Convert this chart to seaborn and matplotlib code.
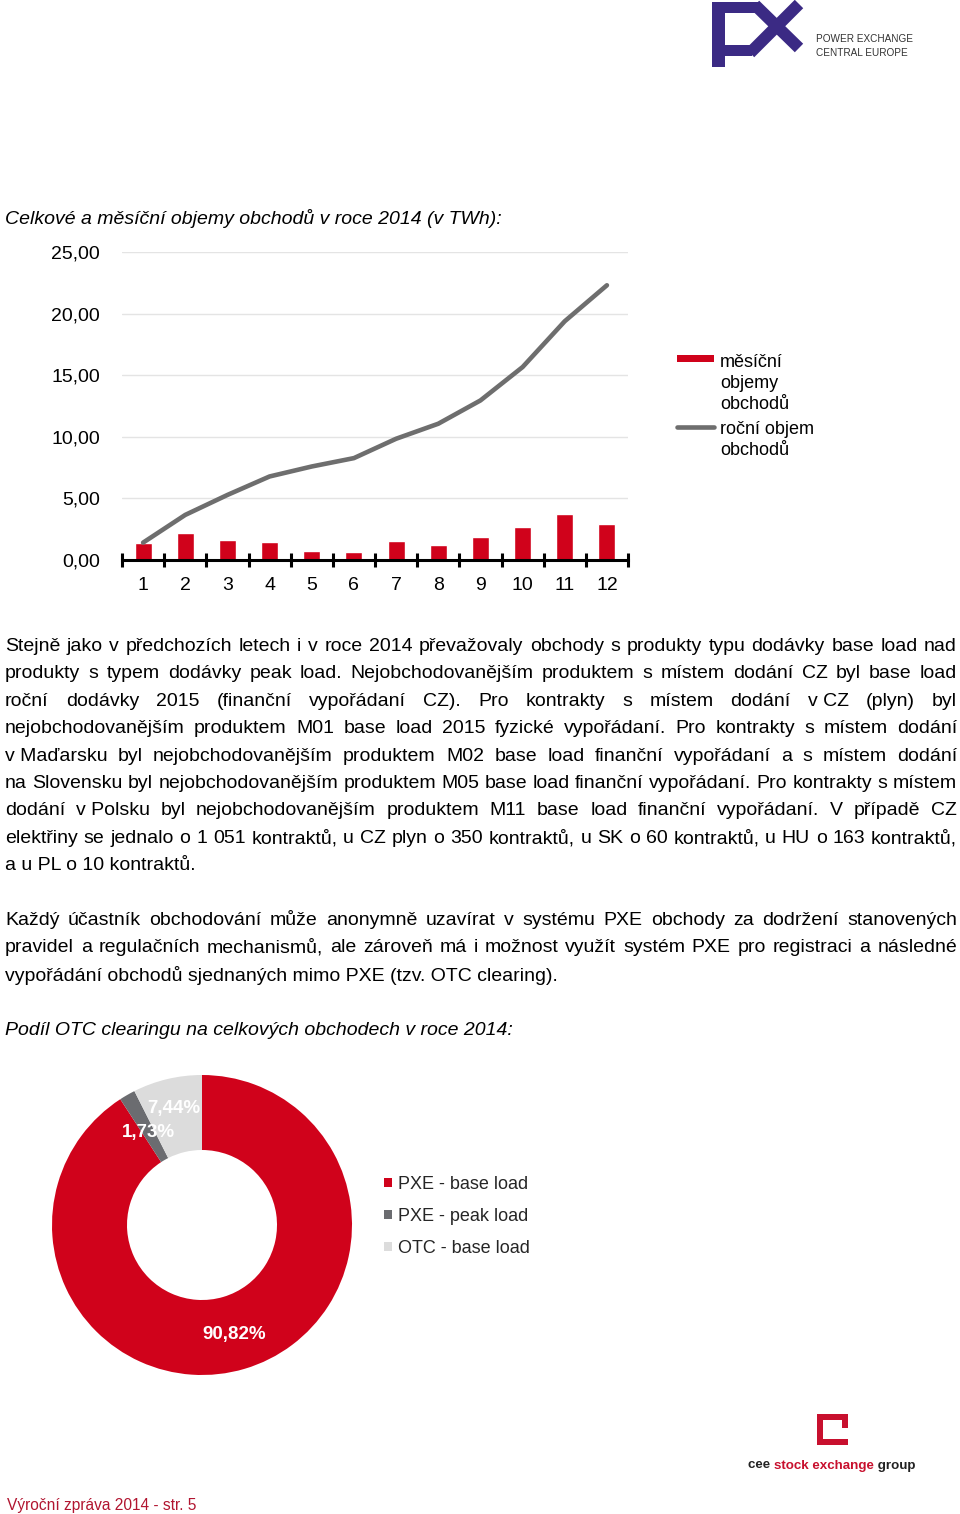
import numpy as np
import pandas as pd
import matplotlib
matplotlib.use("Agg")
import matplotlib.pyplot as plt
import seaborn as sns
from matplotlib import font_manager
from matplotlib.patches import Rectangle
from matplotlib.lines import Line2D
from matplotlib.ticker import FixedLocator, FuncFormatter

# ---------------- data ----------------
months = [str(i) for i in range(1, 13)]
monthly = [1.41, 2.17, 1.60, 1.46, 0.76, 0.62, 1.52, 1.19, 1.87, 2.71, 3.74, 2.90]
annual = [1.41, 3.66, 5.28, 6.78, 7.59, 8.27, 9.84, 11.06, 12.95, 15.66, 19.38, 22.30]
y_ticks = [0, 5, 10, 15, 20, 25]
series_labels = ["měsíční\nobjemy\nobchodů", "roční objem\nobchodů"]

share_labels = ["PXE - base load", "PXE - peak load", "OTC - base load"]
share_values = [90.82, 1.73, 7.44]
share_text = ["90,82%", "1,73%", "7,44%"]

title1 = "Celkové a měsíční objemy obchodů v roce 2014 (v TWh):"
title2 = "Podíl OTC clearingu na celkových obchodech v roce 2014:"
para1 = [
    "Stejně jako v předchozích letech i v roce 2014 převažovaly obchody s produkty typu dodávky base load nad",
    "produkty s typem dodávky peak load. Nejobchodovanějším produktem s místem dodání CZ byl base load",
    "roční dodávky 2015 (finanční vypořádaní CZ). Pro kontrakty s místem dodání v\u00a0CZ (plyn) byl",
    "nejobchodovanějším produktem M01 base load 2015 fyzické vypořádaní. Pro kontrakty s místem dodání",
    "v\u00a0Maďarsku byl nejobchodovanějším produktem M02 base load finanční vypořádaní a s místem dodání",
    "na Slovensku byl nejobchodovanějším produktem M05 base load finanční vypořádaní. Pro kontrakty s místem",
    "dodání v\u00a0Polsku byl nejobchodovanějším produktem M11 base load finanční vypořádaní. V případě CZ",
    "elektřiny se jednalo o 1 051 kontraktů, u CZ plyn o 350 kontraktů, u SK o 60 kontraktů, u HU o 163 kontraktů,",
    "a u PL o 10 kontraktů.",
]
para2 = [
    "Každý účastník obchodování může anonymně uzavírat v systému PXE obchody za dodržení stanovených",
    "pravidel a regulačních mechanismů, ale zároveň má i možnost využít systém PXE pro registraci a následné",
    "vypořádání obchodů sjednaných mimo PXE (tzv. OTC clearing).",
]
footer = "Výroční zpráva 2014 - str. 5"

# ---------------- style ----------------
RED = "#D0021B"
LINE_GRAY = "#6E6E6E"
DARK = "#6B6C70"
LIGHT = "#DCDCDC"
PURPLE = "#3B2A84"
DY = 2.5  # vertical correction for text centring

sns.set_theme(style="white")
plt.rcParams["font.family"] = ["Liberation Sans", "DejaVu Sans"]
installed = {f.name for f in font_manager.fontManager.ttflist}
NARROW = "Liberation Sans Narrow" if "Liberation Sans Narrow" in installed else "Liberation Sans"

W, H = 960, 1514
fig = plt.figure(figsize=(W / 100, H / 100), dpi=100)
fig.patch.set_facecolor("white")

# overlay in pixel coordinates for page text / decorations
ov = fig.add_axes([0, 0, 1, 1], zorder=0)
ov.set_xlim(0, W)
ov.set_ylim(H, 0)
ov.axis("off")
ov.patch.set_alpha(0)
renderer = fig.canvas.get_renderer()


def width_of(t):
    return t.get_window_extent(renderer=renderer).width


def justified(lines, y0, dy, size, family, left=5, right=957):
    for i, line in enumerate(lines):
        y = y0 + i * dy + DY
        kw = dict(fontsize=size, family=[family, "Liberation Sans", "DejaVu Sans"],
                  va="center", ha="left", color="black")
        if i == len(lines) - 1:
            ov.text(left, y, line.replace("\u00a0", " "), **kw)
            continue
        words = [w.replace("\u00a0", " ") for w in line.split(" ")]
        texts = [ov.text(0, y, w, **kw) for w in words]
        widths = [width_of(t) for t in texts]
        gap = (right - left - sum(widths)) / (len(words) - 1)
        x = left
        for t, w in zip(texts, widths):
            t.set_x(x)
            x += w + gap


# ---------------- top logo ----------------
ov.add_patch(Rectangle((712, 2), 13, 65, color=PURPLE, lw=0))
ov.add_patch(Rectangle((712, 2), 46, 11, color=PURPLE, lw=0))
ov.add_patch(Rectangle((712, 45), 40, 11, color=PURPLE, lw=0))
ov.add_line(Line2D([755, 799], [5, 48], lw=8.6, color=PURPLE, solid_capstyle="butt"))
ov.add_line(Line2D([799, 750], [4, 53], lw=8.6, color=PURPLE, solid_capstyle="butt"))
t = ov.text(816, 37 + DY, "POWER EXCHANGE", fontsize=10, family=[NARROW, "Liberation Sans"],
            color="#333333", va="center", ha="left")
fs = 10 * 97 / width_of(t)
t.set_fontsize(fs)
ov.text(816, 51 + DY, "CENTRAL EUROPE", fontsize=fs, family=[NARROW, "Liberation Sans"],
        color="#333333", va="center", ha="left")

# ---------------- titles & paragraphs ----------------
ov.text(5, 216 + DY, title1, fontsize=14, style="italic", va="center", ha="left", color="black")
justified(para1, 644, 27.4, 14, "Liberation Sans")

probe = ov.text(0, 0, para2[0], fontsize=14, family=[NARROW, "Liberation Sans"])
nat = width_of(probe)
probe.remove()
size2 = 14 if nat < 940 else 14 * 900 / nat
justified(para2, 918, 27.4, size2, NARROW)
ov.text(5, 1028 + DY, title2, fontsize=size2, style="italic", family=[NARROW, "Liberation Sans"],
        va="center", ha="left", color="black")

# ---------------- bar + line chart ----------------
ax = fig.add_axes([122 / W, 1 - 560 / H, 506 / W, 308 / H], zorder=2)
ax.patch.set_alpha(0)
df = pd.DataFrame({"month": months, "monthly": monthly, "annual": annual,
                   "pos": np.arange(len(months))})
sns.barplot(data=df, x="month", y="monthly", color=RED, saturation=1, width=0.4,
            ax=ax, zorder=2)
sns.lineplot(data=df, x="pos", y="annual", color=LINE_GRAY, lw=3.3, ax=ax, zorder=3,
             solid_capstyle="round")
ax.set_xlim(-0.5, 11.5)
ax.set_ylim(0, 25)
ax.set_yticks(y_ticks)
ax.yaxis.set_major_formatter(FuncFormatter(lambda v, p: f"{v:.2f}".replace(".", ",")))
ax.yaxis.grid(True, color="#E4E4E4", lw=1)
ax.xaxis.grid(False)
ax.set_axisbelow(True)
for s in ["left", "top", "right"]:
    ax.spines[s].set_visible(False)
ax.spines["bottom"].set_color("black")
ax.spines["bottom"].set_linewidth(2.2)
ax.spines["bottom"].set_zorder(4)
ax.tick_params(axis="y", length=0, pad=16, labelsize=14, labelcolor="black")
ax.tick_params(axis="x", which="major", length=0, pad=12.5, labelsize=14, labelcolor="black")
ax.xaxis.set_minor_locator(FixedLocator(np.arange(-0.5, 12, 1)))
ax.tick_params(axis="x", which="minor", direction="inout", length=10, width=2.2,
               color="black", bottom=True)
ax.set_xlabel("")
ax.set_ylabel("")

# chart legend (handles aligned with first text line)
ov.add_patch(Rectangle((677, 355), 37, 7, color=RED, lw=0))
ov.add_line(Line2D([677, 714], [427, 427], lw=3.3, color=LINE_GRAY, solid_capstyle="round"))
for lab, y0 in zip(series_labels, [360, 427]):
    for k, ln in enumerate(lab.split("\n")):
        ov.text(720, y0 + 21 * k + DY, ln, fontsize=13, va="center", ha="left", color="black")

# ---------------- donut ----------------
pax = fig.add_axes([52 / W, 1 - 1375 / H, 300 / W, 300 / H], zorder=2)
wedges, _ = pax.pie(share_values, colors=[RED, DARK, LIGHT], startangle=90,
                    counterclock=False, radius=1,
                    wedgeprops=dict(width=0.5, edgecolor="none"))
pax.set_xlim(-1, 1)
pax.set_ylim(-1, 1)
pax.set_aspect("equal")
label_r = [0.76, 0.71, 0.80]
for w, txt, r in zip(wedges, share_text, label_r):
    ang = np.deg2rad((w.theta1 + w.theta2) / 2)
    pax.text(r * np.cos(ang), r * np.sin(ang), txt, ha="center", va="center",
             color="white", fontweight="bold", fontsize=13.5)

fig.legend(wedges, share_labels, loc="upper left",
           bbox_to_anchor=(384 / W, 1 - 1176 / H), frameon=False, fontsize=13,
           handlelength=0.45, handleheight=0.45, handletextpad=0.35,
           labelspacing=0.83, borderaxespad=0, borderpad=0)

# ---------------- bottom logo & footer ----------------
BR = "#C8102E"
ov.add_patch(Rectangle((817, 1414), 31, 6, color=BR, lw=0))
ov.add_patch(Rectangle((817, 1414), 6, 31, color=BR, lw=0))
ov.add_patch(Rectangle((817, 1439), 31, 6, color=BR, lw=0))
ov.add_patch(Rectangle((842, 1414), 6, 14, color=BR, lw=0))
x = 748
for part, col in [("cee ", "#222222"), ("stock exchange", BR), (" group", "#222222")]:
    tt = ov.text(x, 1463 + DY, part, fontsize=9.6, fontweight="bold", color=col,
                 va="center", ha="left")
    x += width_of(tt)

ov.text(7, 1503 + DY, footer, fontsize=11.2, color="#B11530", va="center", ha="left")

fig.savefig("out.png", dpi=100, facecolor="white")
